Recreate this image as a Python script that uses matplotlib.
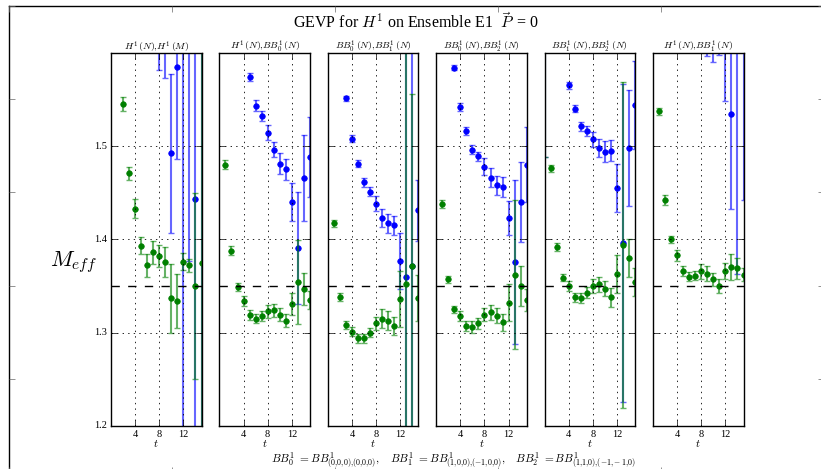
import matplotlib
matplotlib.use("Agg")
import matplotlib.pyplot as plt

plt.style.use("classic")
plt.rcParams["font.family"] = ["Liberation Serif", "DejaVu Serif"]
plt.rcParams["mathtext.fontset"] = "cm"
plt.rcParams["figure.facecolor"] = "white"
plt.rcParams["savefig.facecolor"] = "white"

# ---- effective masses: ground state (green) and first excited state (blue) ----
titles = [r"$H^1\,(N){,}H^1\,(M)$",
          r"$H^1\,(N){,}BB^1_0\,(N)$",
          r"$BB^1_0\,(N){,}BB^1_1\,(N)$",
          r"$BB^1_0\,(N){,}BB^1_2\,(N)$",
          r"$BB^1_1\,(N){,}BB^1_2\,(N)$",
          r"$H^1\,(N){,}BB^1_1\,(N)$"]

# panel 1: H(N), H(M)
g1_t = [2, 3, 4, 5, 6, 7, 8, 9, 10, 11, 12, 13, 14, 15]
g1_m = [1.545, 1.471, 1.433, 1.393, 1.372, 1.386, 1.382, 1.376, 1.337, 1.334, 1.376, 1.372, 1.350, 1.375]
g1_e = [0.007, 0.007, 0.010, 0.009, 0.012, 0.012, 0.012, 0.016, 0.037, 0.029, 0.009, 0.007, 0.100, 0.400]
b1_t = [8, 9, 10, 11, 12, 13, 14, 15]
b1_m = [1.640, 1.650, 1.492, 1.585, 1.680, 1.620, 1.443, 1.700]
b1_e = [0.059, 0.077, 0.085, 0.099, 0.600, 0.243, 0.450, 0.600]

# panel 2: H(N), BB0(N)
g2_t = [1, 2, 3, 4, 5, 6, 7, 8, 9, 10, 11, 12, 13, 14, 15]
g2_m = [1.480, 1.388, 1.349, 1.334, 1.319, 1.315, 1.318, 1.323, 1.324, 1.319, 1.313, 1.331, 1.354, 1.347, 1.335]
g2_e = [0.005, 0.005, 0.004, 0.005, 0.005, 0.005, 0.005, 0.007, 0.007, 0.007, 0.007, 0.012, 0.045, 0.017, 0.010]
b2_t = [5, 6, 7, 8, 9, 10, 11, 12, 13, 14, 15]
b2_m = [1.574, 1.543, 1.532, 1.514, 1.496, 1.481, 1.475, 1.440, 1.391, 1.466, 1.488]
b2_e = [0.004, 0.006, 0.005, 0.008, 0.008, 0.011, 0.011, 0.020, 0.060, 0.046, 0.043]

# panel 3: BB0(N), BB1(N)
g3_t = [1, 2, 3, 4, 5, 6, 7, 8, 9, 10, 11, 12, 13, 14, 15]
g3_m = [1.417, 1.338, 1.308, 1.301, 1.294, 1.294, 1.300, 1.310, 1.315, 1.313, 1.307, 1.336, 1.352, 1.371, 1.337]
g3_e = [0.004, 0.004, 0.004, 0.005, 0.005, 0.005, 0.005, 0.007, 0.010, 0.010, 0.010, 0.030, 0.500, 0.185, 0.025]
b3_t = [3, 4, 5, 6, 7, 8, 9, 10, 11, 12, 13, 14, 15]
b3_m = [1.551, 1.508, 1.481, 1.461, 1.451, 1.438, 1.423, 1.417, 1.415, 1.377, 1.360, 1.371, 1.431]
b3_e = [0.003, 0.004, 0.004, 0.005, 0.005, 0.008, 0.010, 0.010, 0.010, 0.030, 0.500, 0.500, 0.033]

# panel 4: BB0(N), BB2(N)
g4_t = [1, 2, 3, 4, 5, 6, 7, 8, 9, 10, 11, 12, 13, 14, 15]
g4_m = [1.438, 1.357, 1.325, 1.318, 1.307, 1.306, 1.310, 1.319, 1.322, 1.318, 1.311, 1.332, 1.362, 1.350, 1.335]
g4_e = [0.004, 0.004, 0.004, 0.005, 0.005, 0.006, 0.006, 0.007, 0.008, 0.008, 0.009, 0.020, 0.080, 0.021, 0.012]
b4_t = [3, 4, 5, 6, 7, 8, 9, 10, 11, 12, 13, 14, 15]
b4_m = [1.584, 1.542, 1.516, 1.496, 1.489, 1.478, 1.466, 1.458, 1.456, 1.423, 1.376, 1.440, 1.480]
b4_e = [0.003, 0.004, 0.004, 0.005, 0.005, 0.009, 0.010, 0.010, 0.011, 0.018, 0.088, 0.043, 0.040]

# panel 5: BB1(N), BB2(N)
g5_t = [0, 1, 2, 3, 4, 5, 6, 7, 8, 9, 10, 11, 12, 13, 14, 15]
g5_m = [1.750, 1.476, 1.392, 1.359, 1.350, 1.338, 1.337, 1.343, 1.350, 1.352, 1.347, 1.338, 1.363, 1.394, 1.380, 1.354]
g5_e = [0.262, 0.004, 0.004, 0.004, 0.005, 0.005, 0.005, 0.006, 0.008, 0.008, 0.008, 0.010, 0.020, 0.175, 0.020, 0.015]
b5_t = [0, 4, 5, 6, 7, 8, 9, 10, 11, 12, 13, 14, 15]
b5_m = [1.750, 1.565, 1.540, 1.521, 1.516, 1.507, 1.498, 1.494, 1.495, 1.455, 1.396, 1.498, 1.544]
b5_e = [0.262, 0.004, 0.004, 0.005, 0.005, 0.008, 0.010, 0.011, 0.011, 0.026, 0.170, 0.062, 0.047]

# panel 6: H(N), BB1(N)
g6_t = [1, 2, 3, 4, 5, 6, 7, 8, 9, 10, 11, 12, 13, 14, 15]
g6_m = [1.537, 1.442, 1.400, 1.383, 1.366, 1.360, 1.361, 1.366, 1.363, 1.357, 1.350, 1.366, 1.370, 1.369, 1.362]
g6_e = [0.004, 0.005, 0.004, 0.006, 0.005, 0.005, 0.005, 0.008, 0.008, 0.007, 0.007, 0.009, 0.014, 0.011, 0.007]
b6_t = [9, 10, 11, 12, 13, 14, 15]
b6_m = [1.650, 1.660, 1.640, 1.700, 1.534, 1.620, 1.620]
b6_e = [0.054, 0.070, 0.042, 0.152, 0.102, 0.257, 0.178]

green = [(g1_t, g1_m, g1_e), (g2_t, g2_m, g2_e), (g3_t, g3_m, g3_e),
         (g4_t, g4_m, g4_e), (g5_t, g5_m, g5_e), (g6_t, g6_m, g6_e)]
blue = [(b1_t, b1_m, b1_e), (b2_t, b2_m, b2_e), (b3_t, b3_m, b3_e),
        (b4_t, b4_m, b4_e), (b5_t, b5_m, b5_e), (b6_t, b6_m, b6_e)]

plateau = 1.35
x_ticks = [4, 8, 12]
y_ticks = [1.2, 1.3, 1.4, 1.5]

W, H = 821, 469
fig = plt.figure(figsize=(W / 100, H / 100), dpi=100)

# background frame carrying the shared labels
outer = fig.add_axes([8.5 / W, 1 - 472.7 / H, 815 / W, 467 / H])
outer.set_xlim(0, 1)
outer.set_ylim(0, 1)
outer.set_xticks([0, 0.2, 0.4, 0.6, 0.8, 1.0])
outer.set_yticks([0, 0.2, 0.4, 0.6, 0.8, 1.0])
outer.tick_params(labelbottom=False, labelleft=False, direction="in",
                  length=4, color="0.4")

fig.text(416 / W, 1 - 22 / H, r"GEVP for $H^1$ on Ensemble E1  $\vec{P}\,$ = 0",
         ha="center", va="center", fontsize=11.5)
fig.text(74 / W, 1 - 262 / H, r"$M_{eff}$", ha="center", va="center", fontsize=16)
fig.text(453 / W, 1 - 460 / H,
         r"$BB^1_0\ =BB^1_{(0{,}0{,}0){,}(0{,}0{,}0)}{,}$    "
         r"$BB^1_1\ =BB^1_{(1{,}0{,}0){,}(-1{,}0{,}0)}{,}$    "
         r"$BB^1_2\ =BB^1_{(1{,}1{,}0){,}(-1{,}-1{,}0)}$",
         ha="center", va="center", fontsize=8.2)

col_b = (0, 0, 1)
col_g = (0, 0.5, 0)
for i in range(6):
    left = 111 + 108.4 * i
    ax = fig.add_axes([left / W, (H - 426) / H, 90.5 / W, 373.3 / H])
    bt, bm, be = blue[i]
    gt, gm, ge = green[i]
    ax.errorbar(bt, bm, yerr=be, fmt="none", ecolor=col_b, alpha=0.6,
                elinewidth=1.5, capsize=2.5, capthick=1)
    ax.plot(bt, bm, "o", color=col_b, mec=col_b, ms=4)
    ax.errorbar(gt, gm, yerr=ge, fmt="none", ecolor=col_g, alpha=0.6,
                elinewidth=1.5, capsize=2.5, capthick=1)
    ax.plot(gt, gm, "o", color=col_g, mec=col_g, ms=4)
    ax.axhline(plateau, color="k", ls="--", lw=1)
    ax.set_xlim(0, 15)
    ax.set_ylim(1.2, 1.6)
    ax.set_xticks(x_ticks)
    ax.set_yticks(y_ticks)
    ax.grid(True, color="k", linestyle=":", linewidth=0.6)
    ax.tick_params(direction="in", top=True, right=True, length=4,
                   labelsize=7.5, pad=3)
    if i > 0:
        ax.set_yticklabels([])
    ax.set_xlabel(r"$t$", fontsize=8, labelpad=-1)
    ax.set_title(titles[i], fontsize=7, pad=2)

fig.savefig("out.png", dpi=100)
